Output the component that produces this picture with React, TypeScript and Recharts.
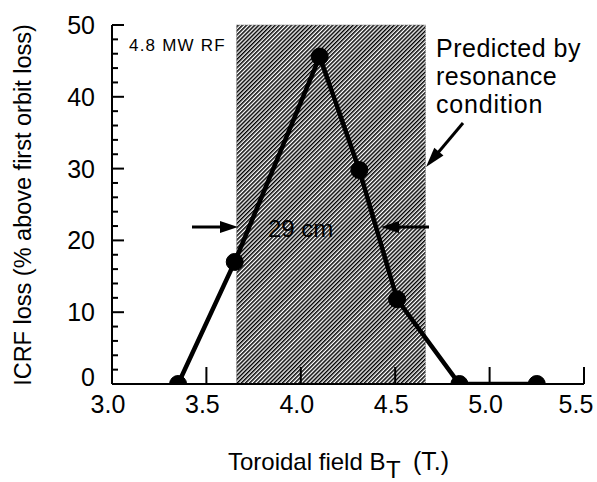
import React from 'react';
import { LineChart, Line, XAxis, YAxis, ReferenceArea } from 'recharts';

const fieldT = [3.35, 3.65, 4.1, 4.31, 4.51, 4.84, 5.25];
const lossPct = [0, 17, 45.6, 29.8, 11.8, 0, 0];
const xTicks = [3, 3.5, 4, 4.5, 5, 5.5];
const yTicks = [0, 2, 4, 6, 8, 10, 12, 14, 16, 18, 20, 22, 24, 26, 28, 30, 32, 34, 36, 38, 40, 42, 44, 46, 48, 50];
const bandStart = 3.66;
const bandEnd = 4.66;

const data = fieldT.map((x, i) => ({ x, y: lossPct[i] }));

const FONT = '"Liberation Sans", Arial, Helvetica, sans-serif';

const XTick = (props: any) => {
  const { x, y, payload, index } = props;
  const v = payload.value as number;
  const shift = index === xTicks.length - 1 ? -8 : -4;
  return (
    <g>
      <line x1={x} y1={y} x2={x} y2={y - 17} stroke="#000" strokeWidth={2} />
      <text x={x + shift} y={y + 29} textAnchor="middle" fontSize={25} fontFamily={FONT} fill="#000">
        {v.toFixed(1)}
      </text>
    </g>
  );
};

const YTick = (props: any) => {
  const { x, y, payload } = props;
  const v = payload.value as number;
  const major = v % 10 === 0;
  return (
    <g>
      <line x1={x} y1={y} x2={x + (major ? 12 : 6)} y2={y} stroke="#000" strokeWidth={2} />
      {major && (
        <text x={x - 17} y={y + (v === 0 ? 2 : 9)} textAnchor="end" fontSize={25} fontFamily={FONT} fill="#000">
          {v}
        </text>
      )}
    </g>
  );
};

function arrow(x1: number, y1: number, x2: number, y2: number, len = 18, half = 6) {
  const dx = x2 - x1;
  const dy = y2 - y1;
  const d = Math.sqrt(dx * dx + dy * dy);
  const ux = dx / d;
  const uy = dy / d;
  const bx = x2 - ux * len;
  const by = y2 - uy * len;
  const px = -uy * half;
  const py = ux * half;
  return (
    <g>
      <line x1={x1} y1={y1} x2={bx + ux * 2} y2={by + uy * 2} stroke="#000" strokeWidth={3} />
      <polygon points={`${x2},${y2} ${bx + px},${by + py} ${bx - px},${by - py}`} fill="#000" />
    </g>
  );
}

export default function App() {
  return (
    <div style={{ position: 'absolute', left: 0, top: 0, width: 597, height: 482, background: '#fff' }}>
      <svg width={0} height={0} style={{ position: 'absolute' }}>
        <defs>
          <pattern id="hatch" patternUnits="userSpaceOnUse" width={2.9} height={10} patternTransform="rotate(45)">
            <rect x={0} y={0} width={1.5} height={10} fill="#000" />
          </pattern>
        </defs>
      </svg>
      <LineChart width={597} height={482} data={data} margin={{ top: 25, right: 13, bottom: 0, left: 0 }}>
        <XAxis
          dataKey="x"
          type="number"
          domain={[3, 5.5]}
          ticks={xTicks}
          height={98}
          tickSize={0}
          tickMargin={0}
          tickLine={false}
          axisLine={{ stroke: '#000', strokeWidth: 2 }}
          tick={<XTick />}
          interval={0}
          allowDataOverflow
        />
        <XAxis xAxisId="top" orientation="top" type="number" domain={[3, 5.5]} height={0} tick={false} tickLine={false} axisLine={{ stroke: '#000', strokeWidth: 2 }} />
        <YAxis
          type="number"
          domain={[0, 50]}
          ticks={yTicks}
          width={112}
          tickSize={0}
          tickMargin={0}
          tickLine={false}
          axisLine={{ stroke: '#000', strokeWidth: 2 }}
          tick={<YTick />}
          interval={0}
          allowDataOverflow
        />
        <YAxis yAxisId="right" orientation="right" domain={[0, 50]} width={0} tick={false} tickLine={false} axisLine={{ stroke: '#000', strokeWidth: 2 }} />
        <ReferenceArea x1={bandStart} x2={bandEnd} y1={0} y2={50} fill="url(#hatch)" fillOpacity={1} stroke="#777" strokeDasharray="1 1" strokeWidth={1} />
        <Line
          dataKey="y"
          stroke="#000"
          strokeWidth={4.5}
          dot={{ r: 8.5, fill: '#000', stroke: '#000', strokeWidth: 1 }}
          isAnimationActive={false}
        />
      </LineChart>
      <svg width={597} height={482} style={{ position: 'absolute', left: 0, top: 0, pointerEvents: 'none' }} fontFamily={FONT}>
        <text x={129} y={51} fontSize={17} letterSpacing={1.2} fill="#000">4.8 MW RF</text>
        <text x={436} y={57} fontSize={25} letterSpacing={0.5} fill="#000">Predicted by</text>
        <text x={436} y={85} fontSize={25} letterSpacing={0.5} fill="#000">resonance</text>
        <text x={436} y={113} fontSize={25} letterSpacing={0.8} fill="#000">condition</text>
        <text x={268} y={237} fontSize={24} fill="#000">29 cm</text>
        {arrow(192, 227, 238, 227)}
        {arrow(429, 227, 381, 227)}
        {arrow(463, 123, 426, 167, 20, 6)}
        <text x={31} y={205} fontSize={23.5} textAnchor="middle" fill="#000" transform="rotate(-90 31 205)">
          ICRF loss (% above first orbit loss)
        </text>
        <text x={228} y={470} fontSize={24} fill="#000">Toroidal field B</text>
        <text x={386} y={478} fontSize={24} fill="#000">T</text>
        <text x={413} y={470} fontSize={25} fill="#000">(T.)</text>
      </svg>
    </div>
  );
}
